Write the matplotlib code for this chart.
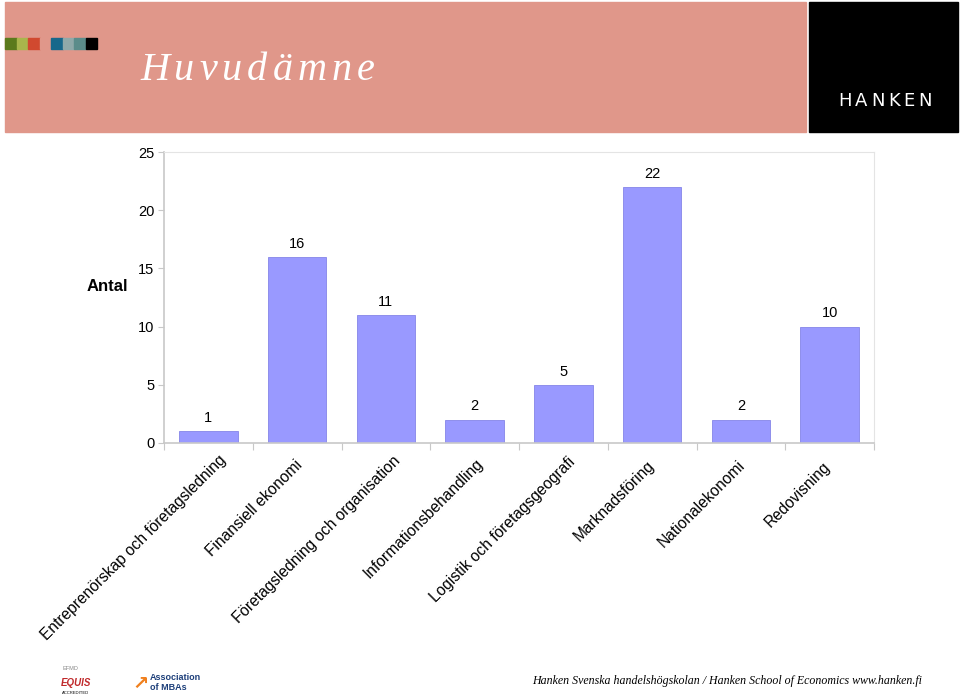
import matplotlib
matplotlib.use("Agg")
import matplotlib.pyplot as plt
from matplotlib.patches import Rectangle

plt.rcParams['font.family'] = ['Liberation Sans', 'DejaVu Sans']

# Data
categories = ['Entreprenörskap och företagsledning', 'Finansiell ekonomi',
              'Företagsledning och organisation', 'Informationsbehandling',
              'Logistik och företagsgeografi', 'Marknadsföring',
              'Nationalekonomi', 'Redovisning']
counts = [1, 16, 11, 2, 5, 22, 2, 10]
yticks = [0, 5, 10, 15, 20, 25]
swatch_colors = ['#5b7a1c', '#a9b64c', '#d1492f', '#e0978a',
                 '#17688b', '#8fa9a9', '#5b8c8a', '#000000']

header_color = '#e0978a'
bar_color = '#9999ff'
grid_gray = '#c8c8c8'

fig = plt.figure(figsize=(9.6, 6.98), dpi=100)
W, H = 960, 698

def px(x, y):
    # pixel coords (top-left origin) -> figure fraction
    return x / W, 1 - y / H

# header band and logo box
fig.patches.append(Rectangle(px(5, 132), 801 / W, 130 / H, transform=fig.transFigure,
                             color=header_color, zorder=0))
fig.patches.append(Rectangle(px(809, 132), 149 / W, 130 / H, transform=fig.transFigure,
                             color='black', zorder=0))
for i, c in enumerate(swatch_colors):
    fig.patches.append(Rectangle(px(5 + i * 11.5, 49), 11.5 / W, 11 / H,
                                 transform=fig.transFigure, color=c, zorder=1))

# title with wide letter spacing
renderer = fig.canvas.get_renderer()
x = 140
for ch in 'Huvudämne':
    t = fig.text(*px(x, 70), ch, fontsize=29, fontstyle='italic', color='white',
                 family='Liberation Serif', va='center', ha='left')
    bb = t.get_window_extent(renderer)
    x += bb.width + 5

# HANKEN wordmark, letter spaced
x = 838
for ch in 'HANKEN':
    t = fig.text(*px(x, 101), ch, color='white', fontsize=13, ha='left', va='center',
                 family='DejaVu Sans')
    bb = t.get_window_extent(renderer)
    x += bb.width + 3.5

# chart
ax = fig.add_axes([164 / W, 1 - 443 / H, 710 / W, 291 / H])
pos = list(range(len(categories)))
bars = ax.bar(pos, counts, width=0.66, color=bar_color, edgecolor='#8585e8', linewidth=0.6)
for p, v in zip(pos, counts):
    ax.annotate(str(v), (p, v), xytext=(0, 4.5), textcoords='offset points',
                ha='center', va='bottom', fontsize=10.5)

ax.set_xlim(-0.5, len(categories) - 0.5)
ax.set_ylim(0, 25)
ax.set_yticks(yticks)
ax.tick_params(axis='y', labelsize=10.5, length=4, color=grid_gray, pad=3)
ax.set_xticks([p - 0.5 for p in pos] + [len(categories) - 0.5], minor=False)
ax.set_xticklabels([])
ax.tick_params(axis='x', length=5, color=grid_gray, direction='out')
for s in ['top', 'right']:
    ax.spines[s].set_color('#e4e4e4')
for s in ['left', 'bottom']:
    ax.spines[s].set_color(grid_gray)
    ax.spines[s].set_linewidth(1.2)

# rotated category labels; longer labels sit a bit further right and higher
for p, name in zip(pos, categories):
    lab = ax.annotate(name, (p, 0), xytext=(0, 0), textcoords='offset pixels',
                      rotation=45, rotation_mode='anchor', ha='right', va='top', fontsize=11.2)
    w = lab.get_window_extent(renderer).width
    lab.xyann = (0.14 * w - 17, -(20 - 0.055 * w))

fig.text(*px(128, 286), 'Antal', fontsize=12, fontweight='bold', ha='right', va='center')

# footer
fig.text(*px(922, 681), 'Hanken Svenska handelshögskolan / Hanken School of Economics www.hanken.fi',
         fontsize=8.6, fontstyle='italic', family='Liberation Serif', ha='right', va='center')
fig.text(*px(70, 668), 'EFMD', fontsize=4, color='#888888', ha='center', va='center')
fig.text(*px(76, 683), 'EQUIS', fontsize=7, color='#c0282a', fontweight='bold',
         fontstyle='italic', ha='center', va='center')
fig.text(*px(76, 693), 'ACCREDITED', fontsize=3, ha='center', va='center')
fig.text(*px(150, 677), 'Association', fontsize=6.5, color='#1d3f7a', fontweight='bold',
         ha='left', va='center')
fig.text(*px(150, 688), 'of MBAs', fontsize=6.5, color='#1d3f7a', fontweight='bold',
         ha='left', va='center')
fig.text(*px(141, 683), '↗', fontsize=14, color='#f0801e', fontweight='bold',
         ha='center', va='center', family='DejaVu Sans')

fig.savefig('out.png', dpi=100)
